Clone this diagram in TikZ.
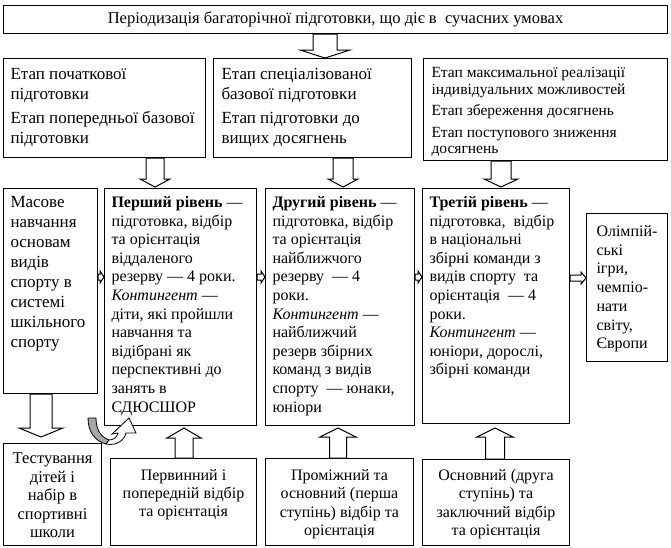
\documentclass[tikz,border=0pt]{standalone}
\usepackage{fontspec}
\setmainfont{Liberation Serif}
\usetikzlibrary{calc}
\tikzset{
  box/.style={draw,line width=1pt,anchor=north west,inner ysep=0pt,inner xsep=7pt,font=\fontsize{16}{18.6}\selectfont},
  blk/.style={draw,line width=1pt,fill=white,line join=miter},
}
% hollow block arrow: from, to, shaft half width, head half width, head length
\newcommand{\blkarrow}[5]{%
  \draw[blk] ($(#1)!#3!90:(#2)$) -- ($($(#2)!#5!(#1)$)!#3!90:(#2)$)
    -- ($($(#2)!#5!(#1)$)!#4!90:(#2)$) -- (#2)
    -- ($($(#2)!#5!(#1)$)!#4!-90:(#2)$) -- ($($(#2)!#5!(#1)$)!#3!-90:(#2)$)
    -- ($(#1)!#3!-90:(#2)$) -- cycle;}

\begin{document}
\begin{tikzpicture}[x=1pt,y=-1pt]
\useasboundingbox (0,0) rectangle (671,547);
% title
\node[box,inner sep=0pt,minimum width=664pt,minimum height=28pt,font=\fontsize{16.5}{18}\selectfont] (title) at (3,5) {Періодизація багаторічної підготовки, що діє в\ \ сучасних умовах};
% stages
\node[box,font=\fontsize{17}{19.5}\selectfont] (stA) at (3,58) {\parbox[t][99pt][t]{188pt}{\raggedright\rule{0pt}{21pt}Етап початкової\\ підготовки\\[5pt] Етап попередньої базової\\ підготовки}};
\node[box,inner xsep=8pt,font=\fontsize{17}{19.5}\selectfont] (stB) at (213,58) {\parbox[t][99pt][t]{182pt}{\raggedright\rule{0pt}{21pt}Етап спеціалізованої\\ базової підготовки\\[5pt] Етап підготовки до\\ вищих досягнень}};
\node[box,inner xsep=8pt,font=\fontsize{15.5}{16.5}\selectfont] (stC) at (423,58) {\parbox[t][102pt][t]{228pt}{\raggedright\rule{0pt}{19pt}Етап максимальної реалізації\\ індивідуальних можливостей\\[5pt] Етап збереження досягнень\\[5pt] Етап поступового зниження\\ досягнень}};
% levels
\node[box,font=\fontsize{17}{20}\selectfont] (mass) at (3,188) {\parbox[t][205pt][t]{80pt}{\raggedright\rule{0pt}{19pt}Масове\\ навчання\\ основам\\ видів\\ спорту в\\ системі\\ шкільного\\ спорту}};
\node[box] (lev1) at (104,188) {\parbox[t][237pt][t]{138pt}{\raggedright\rule{0pt}{19pt}\textbf{Перший рівень} —\\ підготовка, відбір\\ та орієнтація\\ віддаленого\\ резерву — 4 роки.\\ \textit{Контингент} —\\ діти, які пройшли\\ навчання та\\ відібрані як\\ перспективні до\\ занять в\\ СДЮСШОР}};
\node[box] (lev2) at (265,188) {\parbox[t][237pt][t]{135pt}{\raggedright\rule{0pt}{19pt}\textbf{Другий рівень} —\\ підготовка, відбір\\ та орієнтація\\ найближчого\\ резерву\ \ — 4\\ роки.\\ \textit{Контингент} —\\ найближчий\\ резерв збірних\\ команд з видів\\ спорту\ \ — юнаки,\\ юніори}};
\node[box] (lev3) at (422,188) {\parbox[t][235pt][t]{133pt}{\raggedright\rule{0pt}{19pt}\textbf{Третій рівень} —\\ підготовка,\ \ відбір\\ в національні\\ збірні команди з\\ видів спорту\ \ та\\ орієнтація\ \ — 4\\ роки.\\ \textit{Контингент} —\\ юніори, дорослі,\\ збірні команди}};
\node[box,inner xsep=10pt,font=\fontsize{16}{18.7}\selectfont] (olymp) at (586,213) {\parbox[t][148pt][t]{61pt}{\raggedright\rule{0pt}{23pt}\mbox{Олімпій-}\\ ські\\ ігри,\\ \mbox{чемпіо-}\\ нати\\ світу,\\ Європи}};
% selection
\node[box,inner xsep=2pt,font=\fontsize{16.5}{18.5}\selectfont] (test) at (3,443) {\parbox[t][102pt][t]{94pt}{\centering\rule{0pt}{20pt}Тестування\\ дітей і\\ набір в\\ спортивні\\ школи}};
\node[box,inner xsep=2pt,font=\fontsize{16}{18}\selectfont] (sel1) at (110,458) {\parbox[t][87pt][t]{142pt}{\centering\rule{0pt}{22pt}Первинний і\\ попередній відбір\\ та орієнтація}};
\node[box,inner xsep=2pt,font=\fontsize{16}{18.3}\selectfont] (sel2) at (265,458) {\parbox[t][87pt][t]{144pt}{\centering\rule{0pt}{22pt}Проміжний та\\ основний (перша\\ ступінь) відбір та\\ орієнтація}};
\node[box,inner xsep=2pt,font=\fontsize{16}{18.3}\selectfont] (sel3) at (422,459) {\parbox[t][86pt][t]{143pt}{\centering\rule{0pt}{21pt}Основний (друга\\ ступінь) та\\ заключний відбір\\ та орієнтація}};
% arrows down
\coordinate (t1) at (title.south -| 325,0);
\coordinate (t2) at (stB.north -| 325,0);
\blkarrow{t1}{t2}{12pt}{25pt}{8pt}
\coordinate (a1) at (stA.south -| 155,0);
\coordinate (a2) at ($(lev1.north -| 155,0)+(0,-1)$);
\blkarrow{a1}{a2}{9pt}{15pt}{8pt}
\coordinate (b1) at (stB.south -| 343,0);
\coordinate (b2) at ($(lev2.north -| 343,0)+(0,-1)$);
\blkarrow{b1}{b2}{10pt}{15pt}{8pt}
\coordinate (c1) at (stC.south -| 501,0);
\coordinate (c2) at ($(lev3.north -| 501,0)+(0,-1)$);
\blkarrow{c1}{c2}{10pt}{17pt}{8pt}
\coordinate (m1) at (mass.south -| 41,0);
\coordinate (m2) at ($(test.north -| 41,0)+(0,-6)$);
\blkarrow{m1}{m2}{11pt}{22pt}{9pt}
% arrows up
\coordinate (s1) at (sel1.north -| 184,0);
\coordinate (s1t) at ($(lev1.south -| 184,0)+(0,2)$);
\blkarrow{s1}{s1t}{9pt}{17pt}{10pt}
\coordinate (s2) at (sel2.north -| 338,0);
\coordinate (s2t) at ($(lev2.south -| 338,0)+(0,2)$);
\blkarrow{s2}{s2t}{8.5pt}{18pt}{9pt}
\coordinate (s3) at (sel3.north -| 495,0);
\coordinate (s3t) at ($(lev3.south -| 495,0)+(0,4)$);
\blkarrow{s3}{s3t}{9.5pt}{18pt}{9pt}
% arrows right
\coordinate (h1) at (mass.east |- 0,277);
\coordinate (h2) at (lev1.west |- 0,277);
\blkarrow{h1}{h2}{3pt}{6pt}{4pt}
\coordinate (h3) at (lev1.east |- 0,277);
\coordinate (h4) at (lev2.west |- 0,277);
\blkarrow{h3}{h4}{3pt}{6pt}{4pt}
\coordinate (h5) at (lev2.east |- 0,277);
\coordinate (h6) at (lev3.west |- 0,277);
\blkarrow{h5}{h6}{3pt}{6pt}{4pt}
\coordinate (h7) at (lev3.east |- 0,278);
\coordinate (h8) at (olymp.west |- 0,278);
\blkarrow{h7}{h8}{3pt}{6pt}{5pt}
% curved arrow
\draw[line width=0.8pt,fill=black!35] (88,418) -- (96,418) .. controls (96,430) and (101,437) .. (109,440)
  -- (106,444) .. controls (95,441) and (88,432) .. cycle;
\draw[line width=0.8pt,fill=white] (109,440) .. controls (114,440) and (117,437) .. (118,433) -- (112,434)
  -- (129,418) -- (136,433) -- (126,433) .. controls (124,441) and (116,446) .. (106,444) -- cycle;
\end{tikzpicture}
\end{document}
